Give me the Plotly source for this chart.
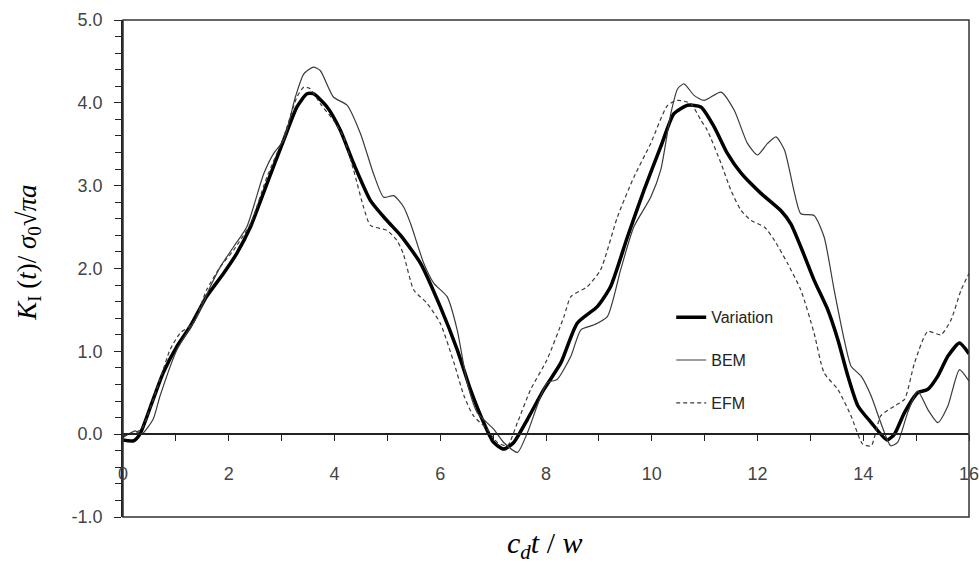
import plotly.graph_objects as go

var_x = [0.0, 0.2, 0.32, 0.57, 0.76, 1.02, 1.27, 1.58, 1.90, 2.15, 2.41, 2.72, 3.04, 3.29, 3.48, 3.60,
         3.86, 4.11, 4.36, 4.68, 4.99, 5.25, 5.63, 6.0, 6.32, 6.57, 6.82, 7.01, 7.20, 7.39, 7.65, 7.96,
         8.28, 8.59, 8.97, 9.22, 9.54, 9.85, 10.17, 10.42, 10.68, 10.93, 11.18, 11.43, 11.69, 12.06,
         12.44, 12.63, 12.82, 13.07, 13.33, 13.52, 13.71, 13.90, 14.15, 14.45, 14.59, 14.78, 15.03,
         15.22, 15.41, 15.60, 15.82, 16.0]
var_y = [-0.07, -0.08, 0.0, 0.42, 0.74, 1.06, 1.30, 1.66, 1.94, 2.18, 2.50, 3.02, 3.55, 3.95, 4.11, 4.11,
         3.95, 3.67, 3.27, 2.82, 2.58, 2.40, 2.06, 1.54, 1.02, 0.54, 0.14, -0.10, -0.18, -0.10, 0.18, 0.54,
         0.86, 1.34, 1.54, 1.78, 2.38, 2.94, 3.47, 3.87, 3.97, 3.95, 3.71, 3.39, 3.15, 2.91,
         2.70, 2.54, 2.26, 1.86, 1.50, 1.14, 0.70, 0.34, 0.14, -0.07, 0.0, 0.26, 0.50,
         0.54, 0.70, 0.94, 1.10, 0.97]

bem_x = [0.0, 0.23, 0.35, 0.57, 0.70, 1.02, 1.40, 1.65, 1.84, 2.09, 2.34, 2.66, 2.85, 3.04, 3.26, 3.42,
         3.60, 3.73, 3.98, 4.24, 4.49, 4.74, 4.93, 5.12, 5.31, 5.44, 5.69, 5.88, 6.13, 6.32, 6.51, 6.70,
         7.01, 7.20, 7.46, 7.65, 8.02, 8.21, 8.47, 8.66, 8.91, 9.16, 9.41, 9.66, 9.98, 10.17, 10.36,
         10.49, 10.61, 10.80, 10.99, 11.31, 11.56, 11.81, 12.00, 12.19, 12.35, 12.51, 12.70, 12.82,
         13.07, 13.26, 13.45, 13.64, 13.77, 13.96, 14.15, 14.33, 14.52, 14.65, 14.84, 15.03, 15.22,
         15.41, 15.60, 15.82, 16.0]
bem_y = [-0.04, 0.04, 0.0, 0.18, 0.46, 1.02, 1.42, 1.78, 2.02, 2.26, 2.50, 3.14, 3.39, 3.55, 4.07, 4.35,
         4.43, 4.39, 4.07, 3.97, 3.63, 3.14, 2.86, 2.88, 2.74, 2.54, 2.06, 1.82, 1.66, 1.26, 0.62, 0.26,
         0.06, -0.10, -0.22, 0.02, 0.62, 0.66, 0.94, 1.26, 1.32, 1.42, 1.98, 2.50, 2.86, 3.19, 3.87,
         4.17, 4.23, 4.09, 4.03, 4.13, 3.91, 3.51, 3.37, 3.51, 3.59, 3.43, 2.91, 2.66,
         2.64, 2.38, 1.74, 1.14, 0.82, 0.70, 0.46, 0.14, -0.14, -0.10, 0.26, 0.52, 0.30,
         0.14, 0.34, 0.78, 0.64]

efm_x = [0.0, 0.23, 0.35, 0.70, 0.89, 1.08, 1.33, 1.58, 1.84, 2.09, 2.41, 2.72, 3.04, 3.29, 3.42, 3.54,
         3.73, 3.98, 4.17, 4.36, 4.55, 4.68, 4.99, 5.18, 5.30, 5.50, 5.75, 6.00, 6.26, 6.45, 6.63, 6.89,
         7.08, 7.27, 7.46, 7.71, 8.02, 8.34, 8.47, 8.78, 9.03, 9.35, 9.66, 9.98, 10.30, 10.49, 10.74,
         10.93, 11.05, 11.31, 11.50, 11.69, 11.88, 12.13, 12.32, 12.57, 12.82, 13.07, 13.26, 13.52,
         13.77, 13.99, 14.15, 14.33, 14.59, 14.78, 14.97, 15.22, 15.47, 15.66, 15.85, 16.0]
efm_y = [-0.02, 0.02, 0.06, 0.66, 1.02, 1.22, 1.34, 1.74, 2.02, 2.22, 2.54, 3.10, 3.59, 4.07, 4.19, 4.17,
         3.99, 3.79, 3.59, 3.19, 2.74, 2.52, 2.46, 2.34, 2.18, 1.74, 1.58, 1.34, 0.86, 0.46, 0.22, 0.06,
         -0.10, -0.14, 0.14, 0.54, 0.90, 1.42, 1.66, 1.78, 1.98, 2.62, 3.10, 3.51, 3.97, 4.03, 3.99,
         3.79, 3.67, 3.27, 2.94, 2.70, 2.58, 2.50, 2.34, 2.06, 1.74, 1.22, 0.74, 0.54,
         0.22, -0.12, -0.14, 0.22, 0.34, 0.42, 0.86, 1.24, 1.20, 1.38, 1.74, 1.94]

x_ticks = list(range(0, 17, 2))
y_ticks = [-1, 0, 1, 2, 3, 4, 5]
y_ticktext = ['-1.0', '0.0', '1.0', '2.0', '3.0', '4.0', '5.0']

fig = go.Figure()
fig.add_trace(go.Scatter(x=var_x, y=var_y, mode='lines', name='Variation', legendgroup='a',
                         line=dict(color='black', width=3.5, shape='spline', smoothing=0.6)))
fig.add_trace(go.Scatter(x=bem_x, y=bem_y, mode='lines', name='BEM', legendgroup='b',
                         line=dict(color='#3a3a3a', width=1.2, shape='spline', smoothing=0.6)))
fig.add_trace(go.Scatter(x=efm_x, y=efm_y, mode='lines', name='EFM', legendgroup='c',
                         line=dict(color='#3a3a3a', width=1.2, dash='4px,3px', shape='spline', smoothing=0.6)))

tickfont = dict(family='Liberation Sans, Arial', size=18, color='#444')

fig.update_layout(
    width=979, height=574,
    margin=dict(l=123, r=10, t=20, b=57, autoexpand=False),
    plot_bgcolor='white', paper_bgcolor='white',
    showlegend=True,
    legend=dict(x=0.648, y=0.436, xanchor='left', yanchor='top', bgcolor='rgba(0,0,0,0)',
                font=dict(family='Liberation Sans, Arial', size=16, color='#222'),
                tracegroupgap=19),
    xaxis=dict(range=[0, 16], anchor='free', position=1 / 6, automargin=False,
               showline=True, linecolor='#222', linewidth=1.5,
               ticks='outside', ticklen=6, tickcolor='#222', tickvals=x_ticks,
               minor=dict(dtick=1, ticks='outside', ticklen=6, tickcolor='#222'),
               ticklabelstandoff=17, ticklabeloverflow='allow', tickfont=tickfont,
               showgrid=False, zeroline=False),
    yaxis=dict(range=[-1, 5], automargin=False, showline=True, linecolor='#222', linewidth=1.5,
               ticks='outside', ticklen=7, tickcolor='#222',
               tickvals=y_ticks, ticktext=y_ticktext,
               minor=dict(dtick=0.2, ticks='outside', ticklen=6, tickcolor='#222'),
               ticklabelstandoff=8, ticklabeloverflow='allow', tickfont=tickfont,
               showgrid=False, zeroline=False),
    shapes=[dict(type='rect', xref='paper', yref='paper', x0=0, x1=1, y0=0, y1=1,
                 line=dict(color='#333', width=1.5))],
    annotations=[
        dict(text='<i>K</i><sub>I</sub> (<i>t</i>)/ <i>σ</i><sub>0</sub>√<i>πa</i>',
             xref='paper', yref='paper', x=-0.112, y=0.532, textangle=-90,
             showarrow=False, xanchor='center', yanchor='middle',
             font=dict(family='Liberation Serif, Times New Roman', size=27, color='black')),
        dict(text='<i>c<sub>d</sub>t</i> / <i>w</i>',
             xref='paper', yref='paper', x=0.499, y=-0.056,
             showarrow=False, xanchor='center', yanchor='middle',
             font=dict(family='Liberation Serif, Times New Roman', size=30, color='black')),
    ],
)

# drop the default page margin so the figure sits at the window's top-left corner
fig.write_html("out.html", config={'displayModeBar': False},
               post_script="document.body.style.margin='0';")
